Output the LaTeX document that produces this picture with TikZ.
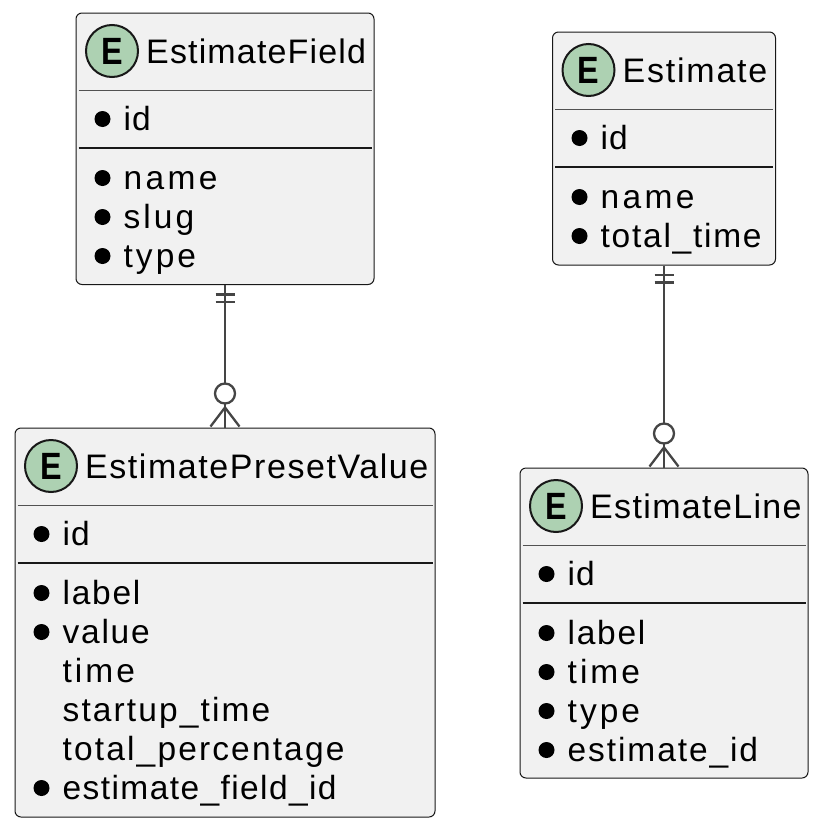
\documentclass[tikz,border=0pt]{standalone}
\usepackage{fontspec}
\setmainfont{Liberation Sans}
\newfontfamily\ebold{Liberation Sans}
\definecolor{boxfill}{HTML}{F1F1F1}
\definecolor{boxline}{HTML}{181818}
\definecolor{spotfill}{HTML}{ADD1B2}
\definecolor{linkcol}{HTML}{454545}
\tikzset{
  entitybox/.style={draw=boxline,fill=boxfill,line width=1pt,rounded corners=6pt,inner sep=0pt},
  spot/.style={circle,draw=boxline,fill=spotfill,line width=2pt,minimum size=52pt,inner sep=0pt,font=\fontsize{38}{38}\ebold\bfseries},
  titletext/.style={anchor=base west,inner sep=0pt,font=\fontsize{34}{40}\selectfont,text=black},
  rowtext/.style={anchor=base west,inner sep=0pt,font=\fontsize{33.5}{40}\selectfont,text=black},
  dot/.style={circle,fill=black,minimum size=16pt,inner sep=0pt},
  thindiv/.style={draw=boxline!75!white,line width=0.9pt},
  thickdiv/.style={draw=boxline,line width=1.8pt},
  linkline/.style={draw=linkcol,line width=2.3pt},
  ringnode/.style={circle,draw=linkcol,fill=white,line width=2.3pt,minimum size=20pt,inner sep=0pt}
}
% id, left, top, right, bottom, title, letter spacing
\newcommand{\entbox}[7]{%
  \node[entitybox,minimum width=#4pt-#2pt,minimum height=#5pt-#3pt] (#1) at ({(#2+#4)/2},{(#3+#5)/2}) {};
  \node[spot] (#1s) at ({#2+36},{#3+38}) {\scalebox{0.85}[1]{E}};
  \node[titletext] (#1t) at ({#2+70},{#3+50}) {\addfontfeature{LetterSpace=#7}#6};
  \draw[thindiv] ({#2+2.5},{#3+77}) -- ({#4-2.5},{#3+77});
  \draw[thickdiv] ({#2+2.5},{#3+135}) -- ({#4-2.5},{#3+135});
}
% id, left, baseline y, bullet(1/0), text, letter spacing
\newcommand{\entrow}[6]{%
  \ifnum#4=1 \node[dot] (#1b) at ({#2+26.5},{#3-11}) {};\fi
  \node[rowtext] (#1x) at ({#2+47.5},{#3+0.5}) {\addfontfeature{LetterSpace=#6}#5};
}
\newcommand{\crowlink}[2]{%
  \draw[linkline] (#1.south) -- (#2.north);
  \draw[linkline] ([xshift=-9.5pt,yshift=-9.5pt]#1.south) -- ([xshift=9.5pt,yshift=-9.5pt]#1.south);
  \draw[linkline] ([xshift=-9.5pt,yshift=-17pt]#1.south) -- ([xshift=9.5pt,yshift=-17pt]#1.south);
  \coordinate (#2apex) at ([yshift=20pt]#2.north);
  \draw[linkline] (#2apex) -- ([xshift=-14.5pt,yshift=1pt]#2.north);
  \draw[linkline] (#2apex) -- ([xshift=14.5pt,yshift=1pt]#2.north);
  \node[ringnode] (#2ring) at ([yshift=34pt]#2.north) {};
}
\begin{document}
\begin{tikzpicture}[x=1pt,y=-1pt]
\useasboundingbox[fill=white] (0,0) rectangle (820,830);

\entbox{ef}{76}{13}{374}{284.5}{EstimateField}{3.4}
\entrow{efa}{76}{130}{1}{id}{3}
\entrow{efb}{76}{189}{1}{name}{10}
\entrow{efc}{76}{228}{1}{slug}{9}
\entrow{efd}{76}{267}{1}{type}{9}

\entbox{es}{552.5}{32}{775.5}{265}{Estimate}{5.2}
\entrow{esa}{553}{149}{1}{id}{3}
\entrow{esb}{553}{208}{1}{name}{10}
\entrow{esc}{553}{247}{1}{total\_time}{5.2}

\entbox{pv}{15}{428}{435}{817}{EstimatePresetValue}{4.6}
\entrow{pva}{15}{545}{1}{id}{3}
\entrow{pvb}{15}{604}{1}{label}{5.2}
\entrow{pvc}{15}{643}{1}{value}{5.2}
\entrow{pvd}{15}{682}{0}{time}{9}
\entrow{pve}{15}{721}{0}{startup\_time}{6.3}
\entrow{pvf}{15}{760}{0}{total\_percentage}{6.4}
\entrow{pvg}{15}{799}{1}{estimate\_field\_id}{4.2}

\entbox{el}{520}{468}{808}{778}{EstimateLine}{4}
\entrow{ela}{520}{585}{1}{id}{3}
\entrow{elb}{520}{644}{1}{label}{5.2}
\entrow{elc}{520}{683}{1}{time}{9}
\entrow{eld}{520}{722}{1}{type}{9}
\entrow{ele}{520}{761}{1}{estimate\_id}{5.7}

\crowlink{ef}{pv}
\crowlink{es}{el}
\end{tikzpicture}
\end{document}
